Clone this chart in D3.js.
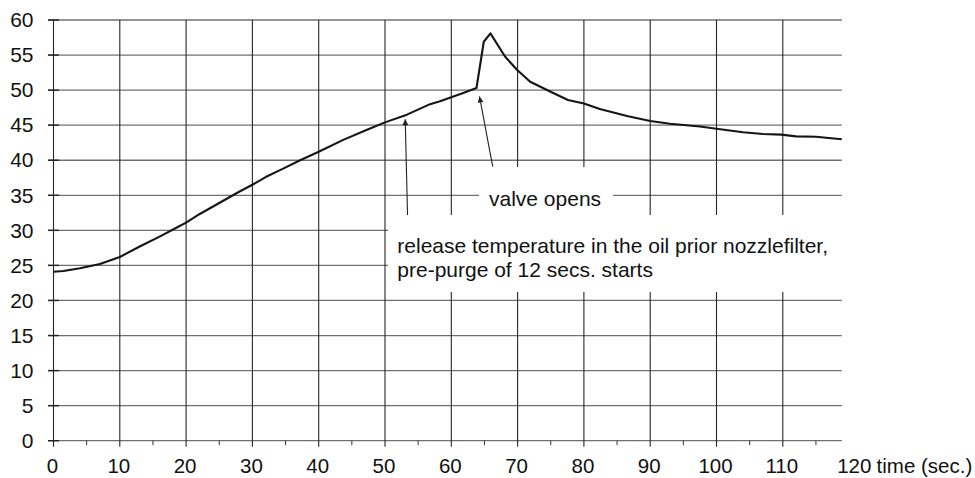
<!DOCTYPE html>
<html><head><meta charset="utf-8">
<script src="https://cdn.jsdelivr.net/npm/d3@7"></script>
<style>
html,body{margin:0;padding:0;background:#fff;}
svg{display:block;font-family:"Liberation Sans",Arial,Helvetica,sans-serif;}
</style></head>
<body><svg id="chart" width="975" height="478"></svg>
<script>
// ---- data ----
const times = [0,1.5,4,7,10,13,16,18.6,20,22,25,28,30,32,34.4,37.2,40,43.7,47.2,50,53.3,56.8,58.3,61.8,63.8,64.9,65.9,68.1,69.9,71.9,74.9,77.6,80,82.4,86.5,90,93,97.5,100,104,107,109.8,112,115,118.9];
const temps = [24.1,24.2,24.6,25.2,26.2,27.7,29.1,30.4,31.1,32.3,33.9,35.5,36.5,37.6,38.7,40.0,41.2,42.9,44.3,45.4,46.5,48.0,48.4,49.6,50.3,56.9,58.1,54.8,52.9,51.2,49.8,48.6,48.1,47.3,46.3,45.6,45.2,44.8,44.5,44.0,43.75,43.65,43.4,43.35,43.0];
const yTicks = [0,5,10,15,20,25,30,35,40,45,50,55,60];
const xTicks = [0,10,20,30,40,50,60,70,80,90,100,110,120];
const xMinorTicks = [5,15,25,35,45,55,65,75,85,95,105,115];
const xTitle = "time (sec.)";
const valveLabel = "valve opens";
const releaseLines = ["release temperature in the oil prior nozzlefilter,", "pre-purge of 12 secs. starts"];

// ---- layout ----
const svg = d3.select("#chart");
const x = d3.scaleLinear().domain([0,120]).range([53.5, 849.1]);
const y = d3.scaleLinear().domain([0,60]).range([440.7, 20]);
const xEnd = x(d3.max(times));
const FS = 21, FSX = 20.5;
const XBASE = 473;

// horizontal gridlines
svg.append("g").selectAll("line").data(yTicks).join("line")
  .attr("x1", x(0)-5.5).attr("x2", xEnd)
  .attr("y1", d=>y(d)).attr("y2", d=>y(d))
  .attr("stroke", "#707070").attr("stroke-width", 1.3);
// vertical gridlines (incl. axis)
svg.append("g").selectAll("line").data(xTicks.filter(d=>x(d)<=xEnd)).join("line")
  .attr("x1", d=>x(d)).attr("x2", d=>x(d))
  .attr("y1", y(60)).attr("y2", y(0)+6)
  .attr("stroke", "#262626").attr("stroke-width", 1.1);
// y tick marks crossing axis
svg.append("g").selectAll("line").data(yTicks).join("line")
  .attr("x1", x(0)-5.5).attr("x2", x(0)+5.5)
  .attr("y1", d=>y(d)).attr("y2", d=>y(d))
  .attr("stroke", "#222").attr("stroke-width", 1.4);
// x minor ticks
svg.append("g").selectAll("line").data(xMinorTicks).join("line")
  .attr("x1", d=>x(d)).attr("x2", d=>x(d))
  .attr("y1", y(0)).attr("y2", y(0)+4.5)
  .attr("stroke", "#333").attr("stroke-width", 1);

// axes (labels)
const yAxis = svg.append("g").attr("transform", `translate(${x(0)},0)`)
  .call(d3.axisLeft(y).tickValues(yTicks).tickSize(0).tickPadding(20));
const xAxis = svg.append("g").attr("transform", `translate(0,${y(0)})`)
  .call(d3.axisBottom(x).tickValues(xTicks).tickSize(0).tickPadding(0));
[yAxis, xAxis].forEach(g=>{
  g.select(".domain").remove();
  g.selectAll("text").attr("fill", "#111")
    .attr("font-family", "'Liberation Sans',Arial,sans-serif");
});
yAxis.selectAll("text").attr("font-size", FS);
xAxis.selectAll("text").attr("font-size", FSX).attr("dy", null).attr("y", XBASE - y(0)).attr("dx", -1.5);
const lastLbl = xAxis.selectAll(".tick text").filter(d=>d===120)
  .attr("text-anchor", "start").attr("dx", -12.4);
const w120 = lastLbl.node().getComputedTextLength();
svg.append("text").attr("x", x(120) - 12.4 + w120 + 5.7).attr("y", XBASE)
  .attr("font-size", FSX).attr("fill", "#111").text(xTitle);

// data line
svg.append("path").datum(times.map((t,i)=>[t,temps[i]]))
  .attr("fill","none").attr("stroke","#151515").attr("stroke-width",2.1)
  .attr("stroke-linejoin","round")
  .attr("d", d3.line().x(d=>x(d[0])).y(d=>y(d[1])));

// white masks behind annotation text
svg.append("rect").attr("x", 479).attr("y", 167).attr("width", 134).attr("height", 48).attr("fill","#fff");
svg.append("rect").attr("x", 388).attr("y", 215).attr("width", 460).attr("height", 77).attr("fill","#fff");

// arrows
const defs = svg.append("defs");
defs.append("marker").attr("id","ah").attr("viewBox","0 0 10 10")
  .attr("refX",10).attr("refY",5).attr("markerWidth",10).attr("markerHeight",6)
  .attr("markerUnits","userSpaceOnUse").attr("orient","auto")
  .append("path").attr("d","M0,0 L10,5 L0,10 z").attr("fill","#222");
const arrows = [
  {from:[53.4,32.2], to:[53.05,45.85]},
  {from:[66.25,39.1], to:[64.25,49.1]}
];
svg.append("g").selectAll("line").data(arrows).join("line")
  .attr("x1", d=>x(d.from[0])).attr("y1", d=>y(d.from[1]))
  .attr("x2", d=>x(d.to[0])).attr("y2", d=>y(d.to[1]))
  .attr("stroke","#222").attr("stroke-width",1.1).attr("marker-end","url(#ah)");

// annotation text
svg.append("text").attr("x", 489).attr("y", 205.7).attr("font-size", FS).attr("fill","#111").text(valveLabel);
svg.append("g").selectAll("text").data(releaseLines).join("text")
  .attr("x", 397.3).attr("y", (d,i)=>252.7 + i*24)
  .attr("font-size", FS).attr("fill","#111").text(d=>d);
</script></body></html>
